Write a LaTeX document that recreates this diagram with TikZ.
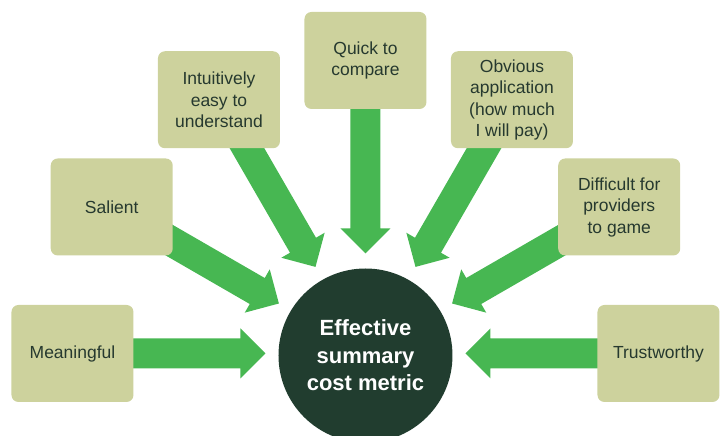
\documentclass[tikz,border=0pt]{standalone}
\usepackage{fontspec}
\setmainfont{Liberation Sans}
\usetikzlibrary{calc,backgrounds}

\definecolor{boxfill}{HTML}{CDD29D}
\definecolor{boxtext}{HTML}{26392F}
\definecolor{arrowgreen}{HTML}{47B752}
\definecolor{hubfill}{HTML}{213D2F}

% broad block arrow from the centre of #1 to the point #2
\newcommand{\fatarrow}[2]{%
    \coordinate (neck) at ($(#2)!25pt!(#1)$);
    \fill[arrowgreen] ($(#1)!15pt!90:(#2)$) -- ($(neck)!15pt!90:(#2)$)
        -- ($(neck)!25pt!90:(#2)$) -- (#2) -- ($(neck)!25pt!-90:(#2)$)
        -- ($(neck)!15pt!-90:(#2)$) -- ($(#1)!15pt!-90:(#2)$) -- cycle;
}

\begin{document}
\begin{tikzpicture}[x=1pt, y=1pt,
    box/.style={rectangle, rounded corners=7pt, fill=boxfill, text=boxtext,
        minimum width=122pt, minimum height=97pt, inner sep=0pt, align=center,
        font=\fontsize{17.5}{21.5}\selectfont},
    hub/.style={circle, fill=hubfill, text=white, minimum size=174pt,
        inner sep=0pt, align=center, font=\fontsize{22}{27.5}\selectfont\bfseries}]
    \useasboundingbox (-365.5,-82.5) rectangle (358.5,353.5);

    \node [box] (meaningful) at (180:293) {Meaningful};
    \node [box] (salient) at (150:293) {Salient};
    \node [box] (intuitive) at (120:293) {Intuitively\\easy to\\understand};
    \node [box] (quick) at (90:293) {Quick to\\compare};
    \node [box] (obvious) at (60:293) {Obvious\\application\\(how much\\I will pay)};
    \node [box] (difficult) at (30:293) {Difficult for\\providers\\to game};
    \node [box] (trustworthy) at (0:293) {Trustworthy};

    \node [hub] (hub) at (0,-2) {Effective\\summary\\cost metric};

    \begin{scope}[on background layer]
        \foreach \lbl/\ang in {meaningful/180, salient/150, intuitive/120, quick/90,
                obvious/60, difficult/30, trustworthy/0} {
            \coordinate (\lbl tip) at (\ang:100);
            \fatarrow{\lbl}{\lbl tip}
        }
    \end{scope}
\end{tikzpicture}
\end{document}
